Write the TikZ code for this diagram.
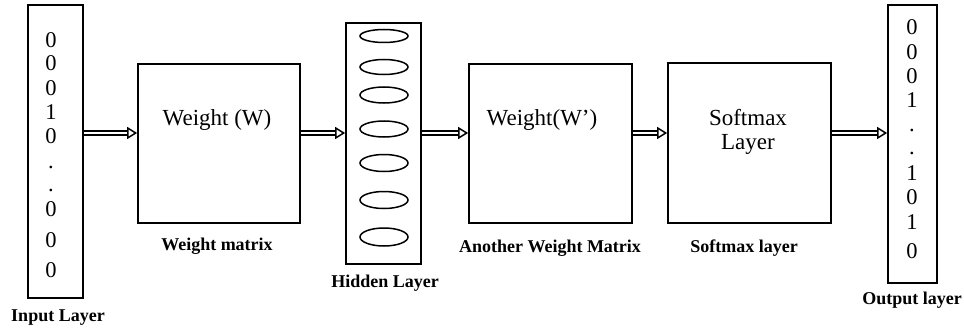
\documentclass[tikz,border=0pt]{standalone}
\usepackage{fontspec}
\setmainfont{Liberation Serif}
\usetikzlibrary{arrows.meta,shapes.geometric}
\begin{document}
\begin{tikzpicture}[x=1pt,y=-1pt,
  box/.style={draw, line width=1.7pt, inner sep=0pt},
  cell/.style={draw, ellipse, line width=1.5pt, minimum width=48pt, inner sep=0pt},
  digit/.style={font=\fontsize{22.5}{24}\selectfont, inner sep=0pt},
  boxtext/.style={font=\fontsize{23}{25}\selectfont, inner sep=0pt, anchor=base},
  caption/.style={font=\bfseries\fontsize{18}{20}\selectfont, inner sep=0pt, anchor=base},
  flow/.style={double, double distance=2.6pt, line width=1.4pt,
    -{Triangle[open, length=10pt, width=12pt, line width=1.5pt]}}
]
\useasboundingbox (0,0) rectangle (964,329);
% boxes
\node[box, minimum width=55pt, minimum height=293pt] (inp) at (55.5,151.5) {};
\node[box, minimum width=162pt, minimum height=159pt] (wm) at (219,143.5) {};
\node[box, minimum width=75pt, minimum height=241pt] (hid) at (383.5,143.5) {};
\node[box, minimum width=163pt, minimum height=159pt] (wm2) at (550.5,143.5) {};
\node[box, minimum width=163pt, minimum height=160pt] (soft) at (749.5,143) {};
\node[box, minimum width=49pt, minimum height=278pt] (out) at (912.5,144) {};
% input digits
\foreach \t/\y [count=\i] in {0/40,0/63,0/88,1/112,0/136,./167,./190,0/209,0/240,0/270}
  \node[digit] (in\i) at (51,\y) {\t};
% output digits
\foreach \t/\y [count=\i] in {0/27,0/52,0/76,1/100,./130,./153,1/173,0/197,1/222,0/251}
  \node[digit] (out\i) at (912,\y) {\t};
% hidden cells
\foreach \y/\h [count=\i] in {36/13,67/15,95/16,129/16,163/17,200/17,237/18}
  \node[cell, minimum height=\h pt] (h\i) at (384,\y) {};
% box texts
\node[boxtext] (tw) at (217,125) {Weight (W)};
\node[boxtext] (tw2) at (542,125) {Weight(W’)};
\node[boxtext] (ts1) at (748,125) {Softmax};
\node[boxtext] (ts2) at (748,149) {Layer};
% captions
\node[caption] (c1) at (58,321) {Input Layer};
\node[caption] (c2) at (217,250) {Weight matrix};
\node[caption] (c3) at (385,287) {Hidden Layer};
\node[caption] (c4) at (550,252) {Another Weight Matrix};
\node[caption] (c5) at (744,252) {Softmax layer};
\node[caption] (c6) at (912,304) {Output layer};
% arrows
\coordinate (ay) at (0,133);
\draw[flow] (inp.east |- ay) -- (wm.west |- ay);
\draw[flow] (wm.east |- ay) -- (hid.west |- ay);
\draw[flow] (hid.east |- ay) -- (wm2.west |- ay);
\draw[flow] (wm2.east |- ay) -- (soft.west |- ay);
\draw[flow] (soft.east |- ay) -- (out.west |- ay);
\end{tikzpicture}
\end{document}
